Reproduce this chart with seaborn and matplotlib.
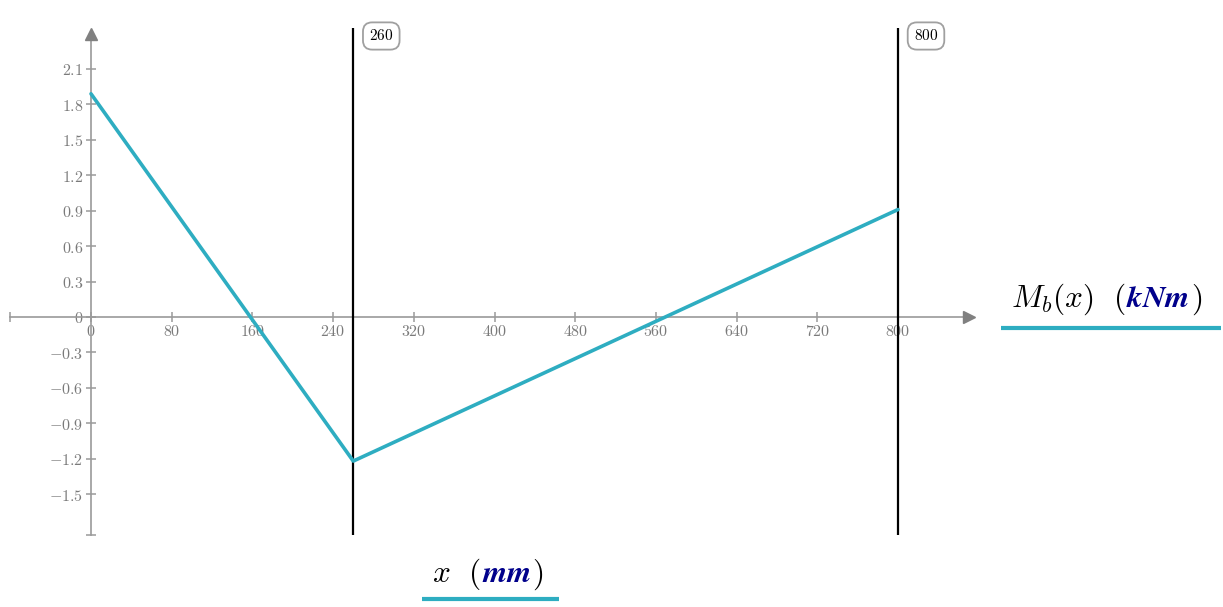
import matplotlib
matplotlib.use("Agg")
import numpy as np
import pandas as pd
import seaborn as sns
import matplotlib.pyplot as plt
from matplotlib.ticker import FixedLocator, FuncFormatter, NullFormatter
from matplotlib.lines import Line2D
from matplotlib.mathtext import MathTextParser

# ---- data ----
x_pts = [0, 260, 800]
m_pts = [1.89, -1.22, 0.91]
marker_x = [260, 800]
marker_labels = ["260", "800"]
x_ticks = [0, 80, 160, 240, 320, 400, 480, 560, 640, 720, 800]
y_ticks = [-1.5, -1.2, -0.9, -0.6, -0.3, 0, 0.3, 0.6, 0.9, 1.2, 1.5, 1.8, 2.1]

sns.set_theme(style="white")
plt.rcParams["mathtext.fontset"] = "cm"
plt.rcParams["font.family"] = ["DejaVu Serif"]
plt.rcParams["axes.unicode_minus"] = True

W, H = 1223, 607
fig = plt.figure(figsize=(W / 100, H / 100), dpi=100)
ax = fig.add_axes([0, 0, 1, 1])
ax.set_facecolor("white")

# pixel mapping of the reference (origin at px 91, 317)
x0p, xs = 91.0, 1.00875
y0p, ys = 317.0, 118.1
ax.set_xlim(-x0p / xs, (W - x0p) / xs)
ax.set_ylim((y0p - H) / ys, y0p / ys)

y_top = (y0p - 28) / ys
y_bot = (y0p - 535) / ys
x_left = -80
x_arrow = (969 - x0p) / xs
y_arrow = (y0p - 34) / ys

axis_col = "#9a9a9a"
label_col = "#7a7a7a"
teal = "#2EADC1"
navy = "#00008B"

df = pd.DataFrame({"x": x_pts, "M": m_pts})
sns.lineplot(data=df, x="x", y="M", ax=ax, color=teal, lw=2.6, zorder=4)
ax.set_xlabel("")
ax.set_ylabel("")

for s in ["top", "right"]:
    ax.spines[s].set_visible(False)
for s in ["left", "bottom"]:
    ax.spines[s].set_position(("data", 0))
    ax.spines[s].set_color(axis_col)
    ax.spines[s].set_linewidth(1.2)
ax.spines["left"].set_bounds(y_bot, y_arrow)
ax.spines["bottom"].set_bounds(x_left, x_arrow)

# arrowheads
ax.plot([0], [y_arrow], marker="^", ms=9, color="#808080", clip_on=False, zorder=5, ls="none")
ax.plot([x_arrow], [0], marker=">", ms=9, color="#808080", clip_on=False, zorder=5, ls="none")

fmt = FuncFormatter(lambda v, p: "$%s$" % ("%g" % v))
ax.xaxis.set_major_locator(FixedLocator(x_ticks))
ax.yaxis.set_major_locator(FixedLocator(y_ticks))
ax.xaxis.set_major_formatter(fmt)
ax.yaxis.set_major_formatter(fmt)
ax.xaxis.set_minor_locator(FixedLocator([x_left]))
ax.yaxis.set_minor_locator(FixedLocator([y_bot]))
ax.xaxis.set_minor_formatter(NullFormatter())
ax.yaxis.set_minor_formatter(NullFormatter())
ax.tick_params(which="both", direction="inout", length=7, width=1.1,
               color=axis_col, labelcolor=label_col, labelsize=11.5, pad=1)
ax.tick_params(axis="y", pad=2)
ax.xaxis.set_ticks_position("bottom")
ax.yaxis.set_ticks_position("left")

# vertical marker lines
ax.vlines(marker_x, y_bot, y_top, color="black", lw=1.6, zorder=3)
for xv, lab in zip(marker_x, marker_labels):
    ax.annotate("$%s$" % lab, xy=(xv, y_top), xytext=(28, -8), textcoords="offset pixels",
                ha="center", va="center", fontsize=11, color="black",
                bbox=dict(boxstyle="round,pad=0.4,rounding_size=0.6", fc="white",
                          ec="#a0a0a0", lw=1.3))


def bold_italic(s):
    for cmd in (r"\boldsymbol", r"\mathbfit"):
        cand = "$%s{%s}$" % (cmd, s)
        try:
            MathTextParser("path").parse(cand, dpi=72)
            return cand
        except Exception:
            pass
    return r"$\mathbf{%s}$" % s


def text_runs(xp, yp, pieces, size):
    fig.canvas.draw()
    r = fig.canvas.get_renderer()
    x = xp
    for txt, col in pieces:
        t = fig.text(x / W, 1 - yp / H, txt, color=col, fontsize=size, va="baseline", ha="left")
        bb = t.get_window_extent(renderer=r)
        x = bb.x1 + 1


text_runs(1011, 307, [(r"$M_b(x)\ \ ($", "black"), (bold_italic("kNm"), navy), (r"$)$", "black")], 22.5)
text_runs(432, 582, [(r"$x\ \ ($", "black"), (bold_italic("mm"), navy), (r"$)$", "black")], 22.5)

fig.add_artist(Line2D([1001 / W, 1221 / W], [1 - 328 / H] * 2, transform=fig.transFigure,
                      color=teal, lw=3, solid_capstyle="butt"))
fig.add_artist(Line2D([422 / W, 559 / W], [1 - 599 / H] * 2, transform=fig.transFigure,
                      color=teal, lw=3, solid_capstyle="butt"))

fig.savefig("out.png", dpi=100, facecolor="white")
